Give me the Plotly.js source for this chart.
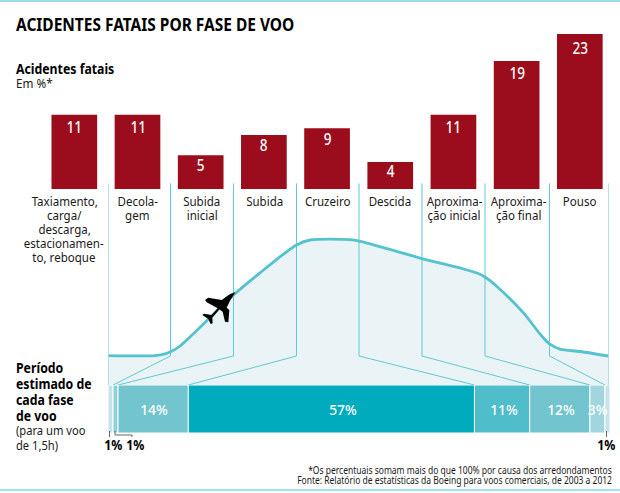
<!DOCTYPE html>
<html><head><meta charset="utf-8">
<script src="https://cdn.plot.ly/plotly-3.0.1.min.js"></script>
<style>html,body{margin:0;padding:0;background:#fff}#c{width:620px;height:493px}</style></head>
<body><div id="c"></div>
<script>
const W=620,H=493,FONT='"Noto Sans",sans-serif';
const phases=['Taxiamento','Decolagem','Subida inicial','Subida','Cruzeiro','Descida','Aproximação inicial','Aproximação final','Pouso'];
const fatalPct=[11,11,5,8,9,4,11,19,23];
const valueLabelDrop=[12,12,10,10,11,9,12,12,14];
const phaseLabelLines=[['Taxiamento,','carga/','descarga,','estacionamen-','to, reboque'],['Decola-','gem'],['Subida','inicial'],['Subida'],['Cruzeiro'],['Descida'],['Aproxima-','ção inicial'],['Aproxima-','ção final'],['Pouso']];
const phaseLabelShift=[-10,0,1,1,0,0,1,2,0];
const timeShare=[1,1,14,57,11,12,3,1];
const timeColors=['#c6e3e7','#8fd0d8','#72c5cf','#00abbd','#50bdca','#72c5cf','#a2d6de','#c6e3e7'];
const timeLabels=['','','14%','57%','11%','12%','3%',''];
const timeLabelShift=[0,0,1,12,2,1,1,0];
const routeDist=[0,9.3,11.3,12.7,14.3,25,31,35,37.6,40.3,48.3,50.2,62.7,71,73.7,75.3,77.8,83,86.3,88.2,90.3,94.3,100];
const altitude=[20.3,20.3,21.4,23.4,26.9,62.1,79.3,90.3,96.6,100,100.3,99.3,87.2,80,77.2,74.5,67.6,49.7,35.2,28.3,24.8,23.1,20];
const boundaryDist=[12.4,25,37.6,50.1,62.7,75.3,88.2];

const px=x=>x/W, py=y=>1-y/H;
const xShareL=108,xShareR=610,xDistL=108.5,xDistR=608.5;
const shareToDist=s=>(xShareL+s*(xShareR-xShareL)/100-xDistL)/(xDistR-xDistL)*100;
let cum=[],acc=0;timeShare.forEach(v=>{cum.push(acc);acc+=v;});
const ruleTop=139,knee=20;

const traces=[];
traces.push({type:'bar',x:phases,y:fatalPct,width:0.723,marker:{color:'#9b0c1c'},hoverinfo:'none'});
traces.push({type:'bar',orientation:'h',xaxis:'x2',yaxis:'y2',y:timeShare.map(()=>'Voo'),x:timeShare,base:cum,width:1,marker:{color:timeColors,line:{color:'#fff',width:1}},hoverinfo:'none'});
traces.push({type:'scatter',mode:'lines',xaxis:'x3',yaxis:'y3',x:routeDist,y:altitude,fill:'tozeroy',fillcolor:'#eaf4f7',line:{color:'rgba(0,0,0,0)',width:0,shape:'spline',smoothing:0.8},hoverinfo:'none'});
const sx=[0,0,null,100,100,null],sy=[ruleTop,0,null,ruleTop,0,null];
boundaryDist.forEach((d,i)=>{sx.push(d,d,shareToDist(cum[i+1]),null);sy.push(ruleTop,knee,0,null);});
traces.push({type:'scatter',mode:'lines',xaxis:'x3',yaxis:'y3',x:sx,y:sy,line:{color:'#62c8d2',width:1},connectgaps:false,cliponaxis:false,hoverinfo:'none'});
traces.push({type:'scatter',mode:'lines',xaxis:'x3',yaxis:'y3',x:routeDist,y:altitude,line:{color:'#56c2cd',width:2.8,shape:'spline',smoothing:0.8},cliponaxis:false,hoverinfo:'none'});

const ann=[],cond=[];
function A(o,f){ann.push(Object.assign({showarrow:false,borderpad:0,yanchor:'middle'},o));cond.push(f);}
function T(text,x,y,size,f,w,o){A(Object.assign({text,x:px(x),y:py(y),xref:'paper',yref:'paper',xanchor:'left',align:'left',font:{family:FONT,size,weight:w||400,color:w?'#000':'#1a1a1a'}},o||{}),f);}
T('ACIDENTES FATAIS POR FASE DE VOO',15,24,18,0.86,700);
T('Acidentes fatais',15,68,15,0.82,700);
T('Em %*',15,83,13,0.9);
['Período','estimado de','cada fase','de voo'].forEach((s,i)=>T(s,15,367+i*16,15,0.82,700));
['(para um voo','de 1,5h)'].forEach((s,i)=>T(s,15,430+i*14.5,13,0.86));
[113.5,135,606].forEach(x=>T('1%',x,444,14,0.88,700,{xanchor:'center',align:'center'}));
T('*Os percentuais somam mais do que 100% por causa dos arredondamentos',613,470,10,0.85,0,{xanchor:'right',align:'right'});
T('Fonte: Relatório de estatísticas da Boeing para voos comerciais, de 2003 a 2012',613,479.5,10,0.85,0,{xanchor:'right',align:'right'});
phaseLabelLines.forEach((lines,i)=>lines.forEach((s,j)=>A({text:s,x:phases[i],xref:'x',y:py(201+j*14),yref:'paper',xanchor:'center',xshift:phaseLabelShift[i],font:{family:FONT,size:13.5,color:'#1a1a1a'}},0.855)));
fatalPct.forEach((v,i)=>A({text:String(v),x:phases[i],xref:'x',y:v,yref:'y',yshift:-valueLabelDrop[i],xanchor:'center',font:{family:FONT,size:16,weight:500,color:'#fff'}},0.85));
timeLabels.forEach((s,i)=>{if(s)A({text:s,x:cum[i]+timeShare[i]/2,xref:'x2',y:0,yref:'y2',xshift:timeLabelShift[i],xanchor:'center',font:{family:FONT,size:15,weight:500,color:'#fff'}},0.92);});

const planeZ=[[166,67],[150,72],[125,90],[85,83],[75,90],[80,97],[113,115],[95,135],[72,131],[67,135],[85,147],[92,162],[98,160],[97,143],[118,118],[128,125],[135,155],[145,157],[148,120],[140,113],[150,92]];
const planePath='M'+planeZ.map(p=>px(180+p[0]/3).toFixed(5)+','+py(270+p[1]/3).toFixed(5)).join('L')+'Z';
const L=(a,b,c,d,col,w)=>({type:'line',xref:'paper',yref:'paper',x0:px(a),y0:py(b),x1:px(c),y1:py(d),line:{color:col,width:w||1}});
const shapes=[L(0,1,W,1,'#7fcfe8',1.5),L(0,490,W,490,'#7fd6f0',1.5),
 L(109.5,431,109.5,437,'#666'),
 L(115,431,115,435,'#666'),L(115,435,132,435,'#666'),L(132,435,132,437,'#666'),
 L(606.5,431,606.5,437,'#666'),
 {type:'path',xref:'paper',yref:'paper',path:planePath,fillcolor:'#000',line:{width:0},layer:'above'}];

const off={visible:false,fixedrange:true};
const layout={width:W,height:H,margin:{l:0,r:0,t:0,b:0},paper_bgcolor:'#fff',plot_bgcolor:'rgba(0,0,0,0)',showlegend:false,barmode:'overlay',hovermode:false,
 xaxis:Object.assign({},off,{type:'category',categoryorder:'array',categoryarray:phases,domain:[0,1],range:[-1.176,8.636],anchor:'y'}),
 yaxis:Object.assign({},off,{domain:[py(189),1],range:[0,189/6.74],anchor:'x'}),
 xaxis2:Object.assign({},off,{domain:[px(xShareL),px(xShareR)],range:[0,100],anchor:'y2'}),
 yaxis2:Object.assign({},off,{type:'category',domain:[py(433),py(385)],range:[-0.5,0.5],anchor:'x2'}),
 xaxis3:Object.assign({},off,{domain:[px(xDistL),px(xDistR)],range:[0,100],anchor:'y3'}),
 yaxis3:Object.assign({},off,{domain:[py(385),1],range:[0,385/1.45],anchor:'x3'}),
 annotations:ann,shapes:shapes};
Plotly.newPlot('c',traces,layout,{displayModeBar:false,staticPlot:true}).then(()=>{
 document.querySelectorAll('#c .annotation').forEach(g=>{
  const i=+g.getAttribute('data-index'),t=g.querySelector('text');
  if(!t||!cond[i])return;
  const b=t.getBBox(),a=getComputedStyle(t).textAnchor;
  const ax=a==='end'?b.x+b.width:a==='middle'?b.x+b.width/2:b.x;
  t.setAttribute('transform','translate('+ax.toFixed(2)+',0) scale('+cond[i]+',1) translate('+(-ax).toFixed(2)+',0)');
 });
});
</script></body></html>
